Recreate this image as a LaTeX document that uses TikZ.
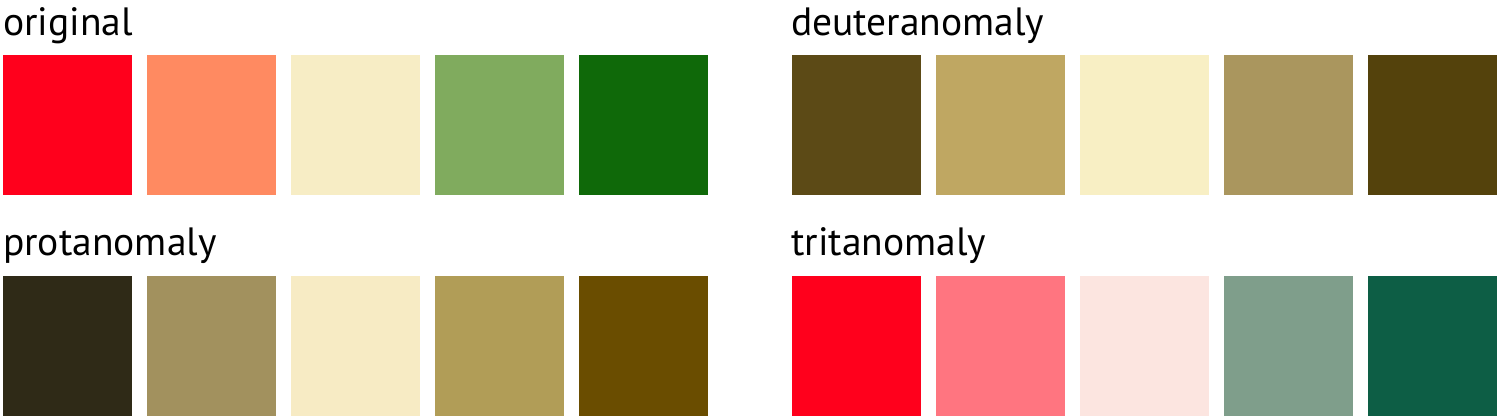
\documentclass[tikz,border=0pt]{standalone}
\usepackage{fontspec}
\setmainfont{PT Sans}
\definecolor{o1}{HTML}{FF001C}
\definecolor{o2}{HTML}{FF8A61}
\definecolor{o3}{HTML}{F7EDC5}
\definecolor{o4}{HTML}{80AB5E}
\definecolor{o5}{HTML}{0F6909}
\definecolor{d1}{HTML}{5C4A16}
\definecolor{d2}{HTML}{BFA762}
\definecolor{d3}{HTML}{F8EFC4}
\definecolor{d4}{HTML}{AA965E}
\definecolor{d5}{HTML}{54420C}
\definecolor{p1}{HTML}{2F2A17}
\definecolor{p2}{HTML}{A2915E}
\definecolor{p3}{HTML}{F7EBC4}
\definecolor{p4}{HTML}{B19D57}
\definecolor{p5}{HTML}{6A4D00}
\definecolor{t1}{HTML}{FF001C}
\definecolor{t2}{HTML}{FF7580}
\definecolor{t3}{HTML}{FCE5E0}
\definecolor{t4}{HTML}{7F9E8B}
\definecolor{t5}{HTML}{0D5E45}
\begin{document}
\begin{tikzpicture}[x=1pt,y=-1pt,
  swatch/.style={rectangle,inner sep=0pt,outer sep=0pt,minimum width=129pt,minimum height=140pt,anchor=north west},
  title/.style={anchor=base west,inner sep=0pt,font=\fontsize{39.5}{41}\selectfont}]
\useasboundingbox (0,0) rectangle (1500,420);
\node[title] (lo) at (3,36) {original};
\node[title] (ld) at (791,36) {deuteranomaly};
\node[title] (lp) at (3,255) {protanomaly};
\node[title] (lt) at (791,255) {tritanomaly};
\foreach \i in {1,...,5}{
  \node[swatch,fill=o\i] (so\i) at ({3+(\i-1)*144},55) {};
  \node[swatch,fill=d\i] (sd\i) at ({792+(\i-1)*144},55) {};
  \node[swatch,fill=p\i] (sp\i) at ({3+(\i-1)*144},276) {};
  \node[swatch,fill=t\i] (st\i) at ({792+(\i-1)*144},276) {};
}
\end{tikzpicture}
\end{document}
